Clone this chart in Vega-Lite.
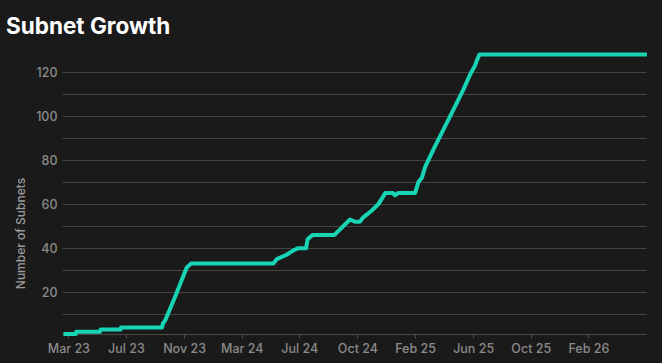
{
  "$schema": "https://vega.github.io/schema/vega-lite/v6.json",
  "width": 584,
  "height": 284,
  "autosize": {"type": "none"},
  "padding": {"left": 62, "top": 50, "right": 16, "bottom": 29},
  "background": "#1a1a1a",
  "title": {
    "text": "Subnet Growth",
    "anchor": "start",
    "frame": "group",
    "dx": -56,
    "offset": 12,
    "font": "Inter",
    "fontSize": 22.5,
    "fontWeight": 700,
    "color": "#ffffff"
  },
  "config": {
    "view": {"stroke": null},
    "axis": {"labelFont": "Inter", "titleFont": "Inter"}
  },
  "data": {
    "values": [
      {"date": "2023-03-07", "subnets": 1},
      {"date": "2023-04-01", "subnets": 1},
      {"date": "2023-04-02", "subnets": 2},
      {"date": "2023-05-21", "subnets": 2},
      {"date": "2023-05-22", "subnets": 3},
      {"date": "2023-07-02", "subnets": 3},
      {"date": "2023-07-03", "subnets": 4},
      {"date": "2023-09-25", "subnets": 4},
      {"date": "2023-09-27", "subnets": 6},
      {"date": "2023-10-01", "subnets": 7},
      {"date": "2023-10-20", "subnets": 17},
      {"date": "2023-11-14", "subnets": 31},
      {"date": "2023-11-23", "subnets": 33},
      {"date": "2024-05-10", "subnets": 33},
      {"date": "2024-05-17", "subnets": 35},
      {"date": "2024-06-06", "subnets": 37},
      {"date": "2024-06-20", "subnets": 39},
      {"date": "2024-06-30", "subnets": 40},
      {"date": "2024-07-16", "subnets": 40},
      {"date": "2024-07-19", "subnets": 44},
      {"date": "2024-07-29", "subnets": 46},
      {"date": "2024-09-12", "subnets": 46},
      {"date": "2024-09-30", "subnets": 50},
      {"date": "2024-10-14", "subnets": 53},
      {"date": "2024-10-24", "subnets": 52},
      {"date": "2024-11-03", "subnets": 52},
      {"date": "2024-11-10", "subnets": 54},
      {"date": "2024-11-27", "subnets": 57},
      {"date": "2024-12-11", "subnets": 60},
      {"date": "2024-12-25", "subnets": 65},
      {"date": "2025-01-10", "subnets": 65},
      {"date": "2025-01-14", "subnets": 64},
      {"date": "2025-01-20", "subnets": 65},
      {"date": "2025-02-24", "subnets": 65},
      {"date": "2025-03-03", "subnets": 70},
      {"date": "2025-03-10", "subnets": 72},
      {"date": "2025-03-17", "subnets": 77},
      {"date": "2025-04-03", "subnets": 85},
      {"date": "2025-05-07", "subnets": 100},
      {"date": "2025-06-03", "subnets": 112},
      {"date": "2025-06-17", "subnets": 119},
      {"date": "2025-06-27", "subnets": 123},
      {"date": "2025-07-02", "subnets": 126},
      {"date": "2025-07-06", "subnets": 128},
      {"date": "2026-06-14", "subnets": 128}
    ]
  },
  "mark": {"type": "line", "color": "#17d4b4", "strokeWidth": 4, "strokeJoin": "round", "strokeCap": "butt"},
  "encoding": {
    "x": {
      "field": "date",
      "type": "temporal",
      "scale": {
        "type": "utc",
        "domain": [
          {"year": 2023, "month": 3, "date": 4, "utc": true},
          {"year": 2026, "month": 6, "date": 12, "utc": true}
        ]
      },
      "axis": {
        "title": null,
        "grid": false,
        "format": "%b %y",
        "values": [
          {"year": 2023, "month": 3, "date": 17, "utc": true},
          {"year": 2023, "month": 7, "date": 13, "utc": true},
          {"year": 2023, "month": 11, "date": 9, "utc": true},
          {"year": 2024, "month": 3, "date": 6, "utc": true},
          {"year": 2024, "month": 7, "date": 2, "utc": true},
          {"year": 2024, "month": 10, "date": 29, "utc": true},
          {"year": 2025, "month": 2, "date": 24, "utc": true},
          {"year": 2025, "month": 6, "date": 23, "utc": true},
          {"year": 2025, "month": 10, "date": 19, "utc": true},
          {"year": 2026, "month": 2, "date": 14, "utc": true}
        ],
        "domainColor": "#4a4a4a",
        "tickColor": "#4a4a4a",
        "tickSize": 4,
        "labelColor": "#8a8a8a",
        "labelFontSize": 12.5,
        "labelFontWeight": 500,
        "labelPadding": 4,
        "labelOverlap": false
      }
    },
    "y": {
      "field": "subnets",
      "type": "quantitative",
      "scale": {"domain": [1, 130], "nice": false, "zero": false},
      "axis": {
        "title": "Number of Subnets",
        "titleColor": "#9a9a9a",
        "titleFontSize": 12,
        "titleFontWeight": 500,
        "titleX": -42,
        "titleY": 183,
        "titleAlign": "center",
        "titleBaseline": "middle",
        "titleAngle": -90,
        "values": [10, 20, 30, 40, 50, 60, 70, 80, 90, 100, 110, 120],
        "labelExpr": "datum.value % 20 === 0 ? datum.label : ''",
        "domain": false,
        "ticks": false,
        "gridColor": "#444444",
        "gridWidth": 1,
        "labelColor": "#8a8a8a",
        "labelFontSize": 12.5,
        "labelFontWeight": 500,
        "labelPadding": 5
      }
    }
  }
}
